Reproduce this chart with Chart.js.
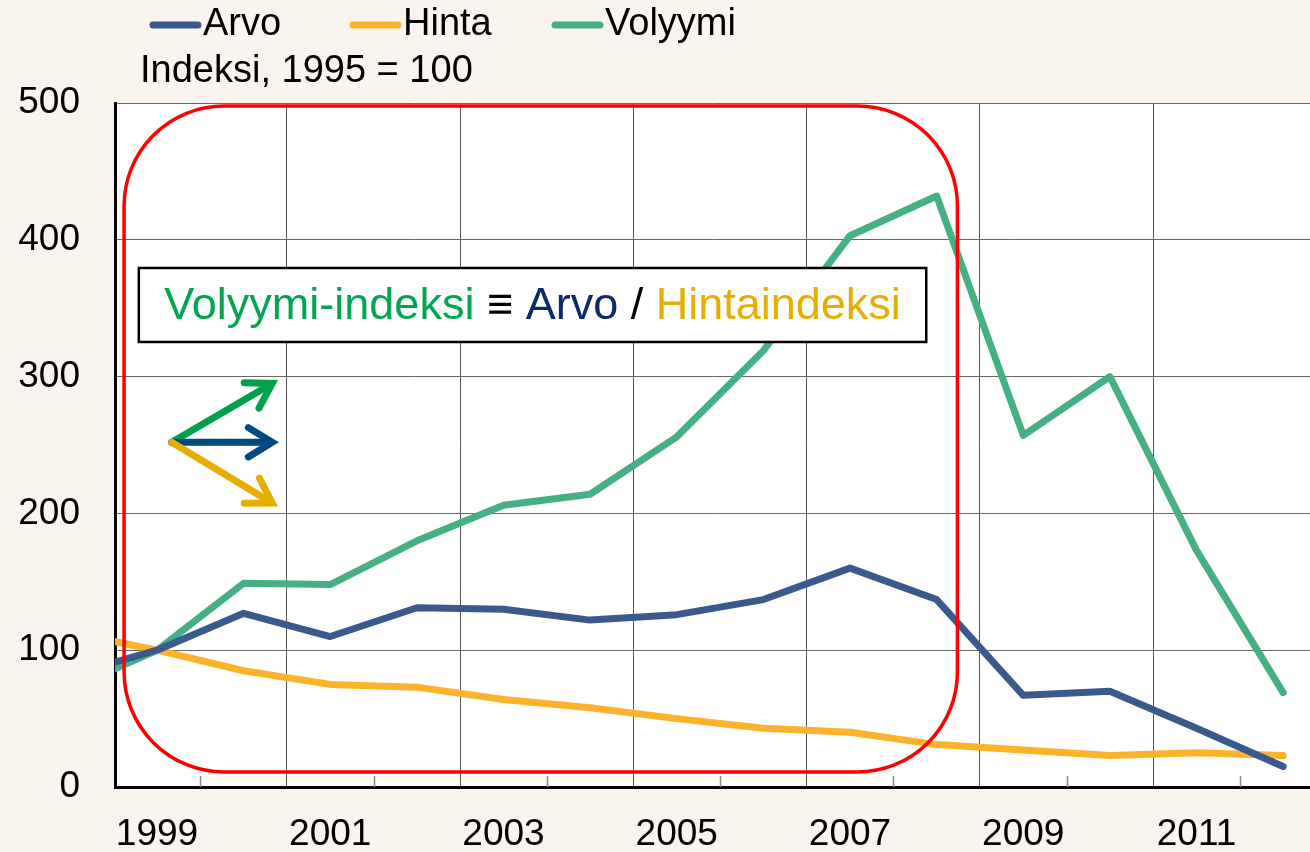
<!DOCTYPE html>
<html>
<head>
<meta charset="utf-8">
<script src="https://cdn.jsdelivr.net/npm/chart.js@4"></script>
<style>
  html, body { margin: 0; padding: 0; background: #f9f4ee; }
  #wrap { width: 1310px; height: 852px; }
</style>
</head>
<body>
<div id="wrap"><canvas id="chart" width="1310" height="852"></canvas></div>
<script>
const years = [1998, 1999, 2000, 2001, 2002, 2003, 2004, 2005, 2006, 2007, 2008, 2009, 2010, 2011, 2012];
const arvo = [82, 100, 127, 110, 131, 130, 122, 126, 137, 160, 137, 67, 70, 43, 15];
const hinta = [113, 100, 85, 75, 73, 64, 58, 50, 43, 40, 31, 27, 23, 25, 23];
const volyymi = [72, 100, 149, 148, 180, 206, 214, 256, 319, 403, 432, 257, 300, 173, 69];
const yTicks = [0, 100, 200, 300, 400, 500];

const FONT = '"Liberation Sans", Arial, sans-serif';

const toPoints = (vals) => years.map((y, i) => ({ x: y, y: vals[i] }));

const background = {
  id: 'background',
  beforeDraw(chart) {
    const { ctx, chartArea: a } = chart;
    ctx.save();
    ctx.fillStyle = '#f9f4ee';
    ctx.fillRect(0, 0, chart.width, chart.height);
    ctx.fillStyle = '#ffffff';
    ctx.fillRect(a.left, a.top, a.right - a.left, a.bottom - a.top);
    ctx.restore();
  },
  beforeDatasetsDraw(chart) {
    // short inner tick marks on odd half-years
    const { ctx, chartArea: a, scales } = chart;
    ctx.save();
    ctx.strokeStyle = '#888';
    ctx.lineWidth = 1.5;
    for (let y = 1999.5; y < 2012.5; y += 2) {
      const px = Math.round(scales.x.getPixelForValue(y)) + 0.5;
      ctx.beginPath();
      ctx.moveTo(px, a.bottom);
      ctx.lineTo(px, a.bottom - 11);
      ctx.stroke();
    }
    ctx.restore();
  }
};

function roundRect(ctx, x, y, w, h, r) {
  ctx.beginPath();
  ctx.moveTo(x + r, y);
  ctx.lineTo(x + w - r, y);
  ctx.arcTo(x + w, y, x + w, y + r, r);
  ctx.lineTo(x + w, y + h - r);
  ctx.arcTo(x + w, y + h, x + w - r, y + h, r);
  ctx.lineTo(x + r, y + h);
  ctx.arcTo(x, y + h, x, y + h - r, r);
  ctx.lineTo(x, y + r);
  ctx.arcTo(x, y, x + r, y, r);
  ctx.closePath();
}

function arrow(ctx, x0, y0, x1, y1, color) {
  const ang = Math.atan2(y1 - y0, x1 - x0);
  const head = 28;
  ctx.strokeStyle = color;
  ctx.lineWidth = 7;
  ctx.lineCap = 'round';
  ctx.lineJoin = 'miter';
  ctx.beginPath();
  ctx.moveTo(x0, y0);
  ctx.lineTo(x1 - 3 * Math.cos(ang), y1 - 3 * Math.sin(ang));
  ctx.stroke();
  ctx.beginPath();
  ctx.moveTo(x1 - head * Math.cos(ang - 0.55), y1 - head * Math.sin(ang - 0.55));
  ctx.lineTo(x1, y1);
  ctx.lineTo(x1 - head * Math.cos(ang + 0.55), y1 - head * Math.sin(ang + 0.55));
  ctx.stroke();
}

const annotations = {
  id: 'annotations',
  afterDatasetsDraw(chart) {
    const { ctx, scales: { x, y } } = chart;
    ctx.save();

    // red rounded frame
    const rx0 = x.getPixelForValue(1998.62), rx1 = x.getPixelForValue(2008.24);
    const ry0 = y.getPixelForValue(497.8), ry1 = y.getPixelForValue(11);
    ctx.strokeStyle = '#ff0000';
    ctx.lineWidth = 3.5;
    roundRect(ctx, rx0, ry0, rx1 - rx0, ry1 - ry0, 100);
    ctx.stroke();

    // formula box
    const bx0 = x.getPixelForValue(1998.79), bx1 = x.getPixelForValue(2007.88);
    const by0 = y.getPixelForValue(379.4), by1 = y.getPixelForValue(325.3);
    ctx.fillStyle = '#ffffff';
    ctx.fillRect(bx0, by0, bx1 - bx0, by1 - by0);
    ctx.strokeStyle = '#000000';
    ctx.lineWidth = 2.5;
    ctx.strokeRect(bx0, by0, bx1 - bx0, by1 - by0);

    const parts = [
      ['Volyymi-indeksi ', '#00a651'],
      ['\u2261 ', '#000000'],
      ['Arvo ', '#0c2a6a'],
      ['/ ', '#000000'],
      ['Hintaindeksi', '#e6ae00']
    ];
    ctx.font = '45px ' + FONT;
    ctx.textBaseline = 'middle';
    ctx.textAlign = 'left';
    const total = parts.reduce((s, p) => s + ctx.measureText(p[0]).width, 0);
    let tx = (bx0 + bx1) / 2 - total / 2;
    const ty = (by0 + by1) / 2 + 2;
    parts.forEach(([t, c]) => {
      ctx.fillStyle = c;
      ctx.fillText(t, tx, ty);
      tx += ctx.measureText(t).width;
    });

    // arrows
    const ax0 = x.getPixelForValue(1999.17), ay0 = y.getPixelForValue(252);
    const ax1 = x.getPixelForValue(2000.33);
    arrow(ctx, ax0, ay0, ax1, y.getPixelForValue(295), '#00a14b');
    arrow(ctx, ax0, ay0, ax1, y.getPixelForValue(252), '#004a80');
    arrow(ctx, ax0, ay0, ax1, y.getPixelForValue(207.6), '#e6ae00');

    ctx.restore();
  }
};

const legendAndTitle = {
  id: 'legendAndTitle',
  afterDraw(chart) {
    const { ctx } = chart;
    ctx.save();
    ctx.font = '38px ' + FONT;
    ctx.textBaseline = 'middle';
    ctx.textAlign = 'left';
    const starts = [150, 350, 552];
    chart.data.datasets.forEach((ds, i) => {
      const lx = starts[i];
      ctx.strokeStyle = ds.borderColor;
      ctx.lineWidth = 7;
      ctx.lineCap = 'round';
      ctx.beginPath();
      ctx.moveTo(lx + 3, 25);
      ctx.lineTo(lx + 48, 25);
      ctx.stroke();
      ctx.fillStyle = '#000000';
      ctx.fillText(ds.label, lx + 53, 25);
    });
    ctx.fillText('Indeksi, 1995 = 100', 140, 72);
    ctx.restore();
  }
};

const lineStyle = {
  borderWidth: 7,
  pointRadius: 0,
  tension: 0,
  borderJoinStyle: 'round',
  borderCapStyle: 'round',
  clip: 0
};

const config = {
  type: 'line',
  data: {
    datasets: [
      { label: 'Arvo', data: toPoints(arvo), borderColor: '#3a5a8e', ...lineStyle },
      { label: 'Hinta', data: toPoints(hinta), borderColor: '#fdb22b', ...lineStyle },
      { label: 'Volyymi', data: toPoints(volyymi), borderColor: '#44b083', ...lineStyle }
    ]
  },
  options: {
    responsive: false,
    animation: false,
    layout: { padding: { top: 103, right: 0, bottom: 0, left: 0 } },
    plugins: {
      legend: { display: false },
      tooltip: { enabled: false }
    },
    scales: {
      x: {
        type: 'linear',
        min: 1998.515,
        max: 2012.31,
        afterBuildTicks: (scale) => {
          const t = [];
          for (let v = 1999; v <= 2012; v += 0.5) t.push({ value: v });
          scale.ticks = t;
        },
        afterFit: (scale) => { scale.height = 65; },
        border: { display: true, color: '#000000', width: 3 },
        grid: {
          drawTicks: false,
          lineWidth: 1,
          color: (c) => {
            const v = c.tick ? c.tick.value : 0;
            return (v % 2 === 0.5) ? '#555555' : 'rgba(0,0,0,0)';
          }
        },
        ticks: {
          autoSkip: false,
          maxRotation: 0,
          padding: 26,
          color: '#000000',
          font: { family: FONT, size: 37 },
          callback: (v) => (Number.isInteger(v) && v % 2 === 1) ? String(v) : ''
        }
      },
      y: {
        min: 0,
        max: 500,
        afterBuildTicks: (scale) => { scale.ticks = yTicks.map(v => ({ value: v })); },
        afterFit: (scale) => { scale.width = 115; },
        border: { display: true, color: '#000000', width: 3 },
        grid: { drawTicks: false, color: '#666666', lineWidth: 1 },
        ticks: {
          padding: 35,
          color: '#000000',
          font: { family: FONT, size: 37 }
        }
      }
    }
  },
  plugins: [background, annotations, legendAndTitle]
};

const myChart = new Chart(document.getElementById('chart'), config);
</script>
</body>
</html>
